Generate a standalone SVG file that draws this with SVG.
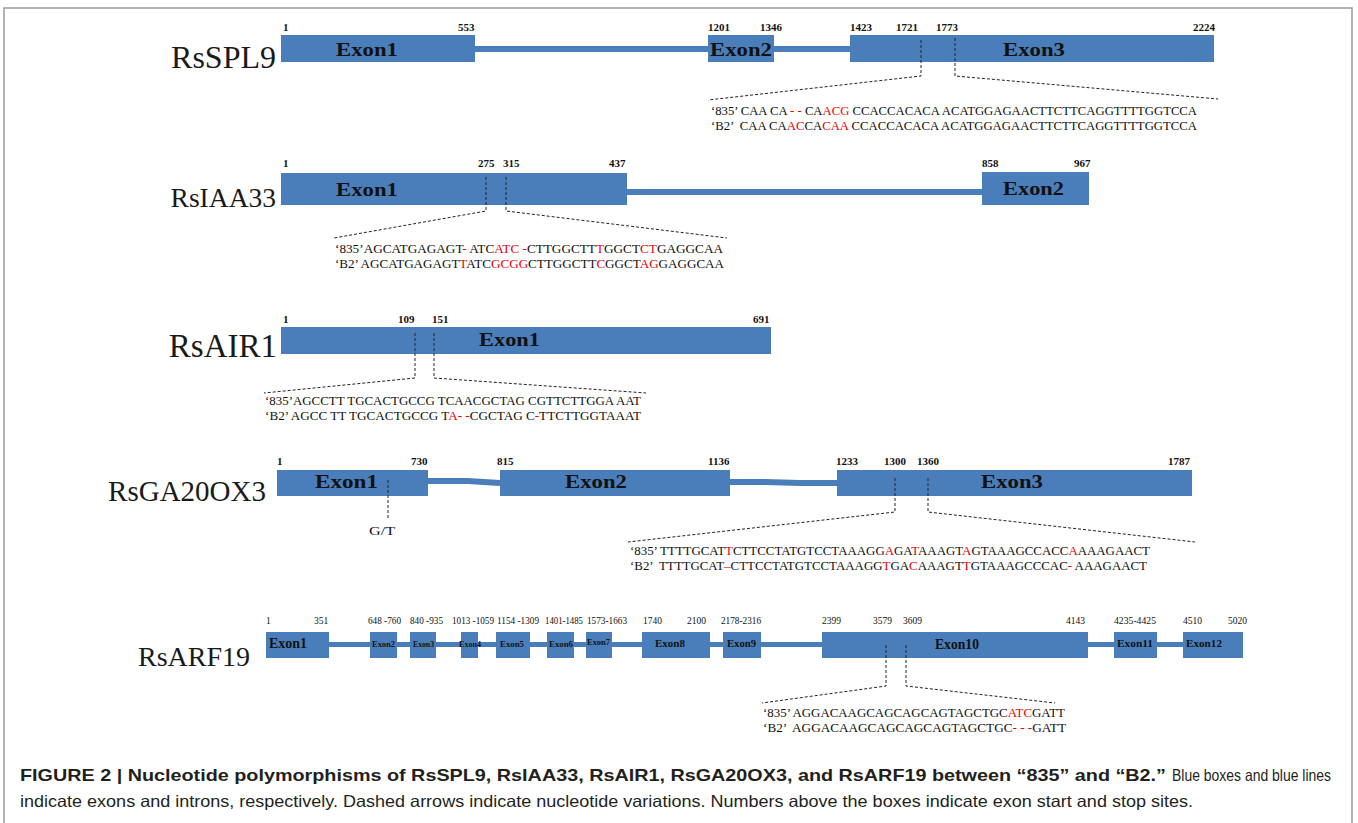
<svg xmlns="http://www.w3.org/2000/svg" width="1358" height="823" viewBox="0 0 1358 823">
<style>
.ex{fill:#4a7ebb}
.in{fill:none;stroke:#4a7ebb;stroke-width:6}
.gn{font-family:"Liberation Serif","Times New Roman",serif;font-size:27px;fill:#1a1a1a}
.num{font-family:"Liberation Serif","Times New Roman",serif;font-size:11px;font-weight:bold;fill:#111}
.num2{font-family:"Liberation Serif","Times New Roman",serif;font-size:9.5px;fill:#111}
.el{font-family:"Liberation Serif","Times New Roman",serif;font-size:19px;font-weight:bold;fill:#111}
.es{font-family:"Liberation Serif","Times New Roman",serif;font-size:8px;font-weight:bold;fill:#111}
.em{font-family:"Liberation Serif","Times New Roman",serif;font-size:11px;font-weight:bold;fill:#111}
.eb{font-family:"Liberation Serif","Times New Roman",serif;font-size:14px;font-weight:bold;fill:#111}
.seq{font-family:"Liberation Serif","Times New Roman",serif;font-size:13px;fill:#111;white-space:pre}
.r{fill:#e8000b}
.dash{fill:none;stroke:#222;stroke-width:1;stroke-dasharray:3 2}
.cap{font-family:"Liberation Sans",Arial,sans-serif;font-size:16.5px;fill:#231f20}
.capb{font-weight:bold}
.frame{fill:none;stroke:#9a9a9a;stroke-width:1.5}
</style>
<rect x="0" y="0" width="1358" height="823" fill="#fff"/>
<path class="frame" d="M4,830 V8 H1352 V830"/>

<g id="rsspl9">
  <line class="in" x1="475" y1="49" x2="850" y2="49"/>
  <rect class="ex" x="281" y="35" width="194" height="27"/>
  <rect class="ex" x="708" y="35" width="66" height="27"/>
  <rect class="ex" x="850" y="35" width="364" height="27"/>
  <text class="gn" x="276" y="68" text-anchor="end" style="font-size:32px">RsSPL9</text>
  <text class="el" x="336" y="56" textLength="62" lengthAdjust="spacingAndGlyphs">Exon1</text>
  <text class="el" x="710" y="56" textLength="62" lengthAdjust="spacingAndGlyphs">Exon2</text>
  <text class="el" x="1003" y="56" textLength="62" lengthAdjust="spacingAndGlyphs">Exon3</text>
  <text class="num" x="283" y="31">1</text>
  <text class="num" x="458" y="31">553</text>
  <text class="num" x="708" y="31">1201</text>
  <text class="num" x="760" y="31">1346</text>
  <text class="num" x="850" y="31">1423</text>
  <text class="num" x="896" y="31">1721</text>
  <text class="num" x="936" y="31">1773</text>
  <text class="num" x="1193" y="31">2224</text>
  <text class="seq" x="711" y="115" textLength="486" lengthAdjust="spacingAndGlyphs">‘835’ CAA CA <tspan class="r">- -</tspan> CA<tspan class="r">ACG</tspan> CCACCACACA ACATGGAGAACTTCTTCAGGTTTTGGTCCA</text>
  <text class="seq" x="711" y="130" textLength="486" lengthAdjust="spacingAndGlyphs">‘B2’  CAA CA<tspan class="r">AC</tspan>CA<tspan class="r">CAA</tspan> CCACCACACA ACATGGAGAACTTCTTCAGGTTTTGGTCCA</text>
</g>

<g id="rsiaa33">
  <line class="in" x1="627" y1="192" x2="982" y2="192"/>
  <rect class="ex" x="281" y="173" width="346" height="32"/>
  <rect class="ex" x="982" y="172" width="107" height="33"/>
  <text class="gn" x="276" y="207" text-anchor="end" style="font-size:27.5px">RsIAA33</text>
  <text class="el" x="336" y="196" textLength="62" lengthAdjust="spacingAndGlyphs">Exon1</text>
  <text class="el" x="1003" y="195" textLength="61" lengthAdjust="spacingAndGlyphs">Exon2</text>
  <text class="num" x="283" y="167">1</text>
  <text class="num" x="478" y="167">275</text>
  <text class="num" x="503" y="167">315</text>
  <text class="num" x="609" y="167">437</text>
  <text class="num" x="982" y="167">858</text>
  <text class="num" x="1074" y="167">967</text>
  <text class="seq" x="335" y="253" textLength="388" lengthAdjust="spacingAndGlyphs">‘835’AGCATGAGAGT<tspan class="r">-</tspan> ATC<tspan class="r">ATC -</tspan>CTTGGCTT<tspan class="r">T</tspan>GGCT<tspan class="r">CT</tspan>GAGGCAA</text>
  <text class="seq" x="335" y="268" textLength="389" lengthAdjust="spacingAndGlyphs">‘B2’ AGCATGAGAGT<tspan class="r">T</tspan>ATC<tspan class="r">GCGG</tspan>CTTGGCTT<tspan class="r">C</tspan>GGCT<tspan class="r">AG</tspan>GAGGCAA</text>
</g>

<g id="rsair1">
  <rect class="ex" x="281" y="327" width="490" height="27"/>
  <text class="gn" x="277" y="357" text-anchor="end" style="font-size:33px">RsAIR1</text>
  <text class="el" x="479" y="346" textLength="61" lengthAdjust="spacingAndGlyphs">Exon1</text>
  <text class="num" x="283" y="323">1</text>
  <text class="num" x="398" y="323">109</text>
  <text class="num" x="432" y="323">151</text>
  <text class="num" x="753" y="323">691</text>
  <text class="seq" x="265" y="405" textLength="376" lengthAdjust="spacingAndGlyphs">‘835’AGCCTT TGCACTGCCG TCAACGCTAG CGTTCTTGGA AAT</text>
  <text class="seq" x="265" y="420" textLength="376" lengthAdjust="spacingAndGlyphs">‘B2’ AGCC TT TGCACTGCCG T<tspan class="r">A- -</tspan>CGCTAG C<tspan class="r">-</tspan>TTCTTGGTAAAT</text>
</g>

<g id="rsga20ox3">
  <polyline class="in" points="428,481 468,481 500,483"/>
  <polyline class="in" points="730,482 765,482 800,483 837,483"/>
  <rect class="ex" x="277" y="470" width="151" height="26"/>
  <rect class="ex" x="500" y="470" width="230" height="26"/>
  <rect class="ex" x="837" y="470" width="355" height="26"/>
  <text class="gn" x="266" y="501" text-anchor="end" style="font-size:29px">RsGA20OX3</text>
  <text class="el" x="315" y="488" textLength="63" lengthAdjust="spacingAndGlyphs">Exon1</text>
  <text class="el" x="565" y="488" textLength="62" lengthAdjust="spacingAndGlyphs">Exon2</text>
  <text class="el" x="981" y="488" textLength="62" lengthAdjust="spacingAndGlyphs">Exon3</text>
  <text class="num" x="277" y="465">1</text>
  <text class="num" x="411" y="465">730</text>
  <text class="num" x="497" y="465">815</text>
  <text class="num" x="708" y="465">1136</text>
  <text class="num" x="836" y="465">1233</text>
  <text class="num" x="884" y="465">1300</text>
  <text class="num" x="917" y="465">1360</text>
  <text class="num" x="1168" y="465">1787</text>
  <text class="seq" x="369" y="535" textLength="26" lengthAdjust="spacingAndGlyphs">G/T</text>
  <text class="seq" x="630" y="555" textLength="520" lengthAdjust="spacingAndGlyphs">‘835’ TTTTGCAT<tspan class="r">T</tspan>CTTCCTATGTCCTAAAGG<tspan class="r">A</tspan>GA<tspan class="r">T</tspan>AAAGT<tspan class="r">A</tspan>GTAAAGCCACC<tspan class="r">A</tspan>AAAGAACT</text>
  <text class="seq" x="630" y="570" textLength="517" lengthAdjust="spacingAndGlyphs">‘B2’  TTTTGCAT<tspan class="r">–</tspan>CTTCCTATGTCCTAAAGG<tspan class="r">T</tspan>GA<tspan class="r">C</tspan>AAAGT<tspan class="r">T</tspan>GTAAAGCCCAC<tspan class="r">-</tspan> AAAGAACT</text>
</g>

<g id="rsarf19">
  <line class="in" x1="329" y1="644.5" x2="1183" y2="644.5" style="stroke-width:5"/>
  <rect class="ex" x="266" y="632" width="63" height="26"/>
  <rect class="ex" x="370" y="632" width="27" height="26"/>
  <rect class="ex" x="410" y="632" width="26" height="26"/>
  <rect class="ex" x="461" y="632" width="17" height="26"/>
  <rect class="ex" x="496" y="632" width="34" height="26"/>
  <rect class="ex" x="547" y="632" width="27" height="26"/>
  <rect class="ex" x="586" y="632" width="26" height="26"/>
  <rect class="ex" x="642" y="632" width="68" height="26"/>
  <rect class="ex" x="723" y="632" width="38" height="26"/>
  <rect class="ex" x="822" y="632" width="266" height="26"/>
  <rect class="ex" x="1114" y="632" width="43" height="26"/>
  <rect class="ex" x="1183" y="632" width="60" height="26"/>
  <text class="gn" x="250" y="666" text-anchor="end" style="font-size:28px">RsARF19</text>
  <text class="eb" x="269" y="648" textLength="38" lengthAdjust="spacingAndGlyphs">Exon1</text>
  <text class="es" x="372" y="647" textLength="23" lengthAdjust="spacingAndGlyphs">Exon2</text>
  <text class="es" x="413" y="647" textLength="21" lengthAdjust="spacingAndGlyphs">Exon3</text>
  <text class="es" x="459" y="647" textLength="22" lengthAdjust="spacingAndGlyphs">Exon4</text>
  <text class="es" x="500" y="647" textLength="24" lengthAdjust="spacingAndGlyphs">Exon5</text>
  <text class="es" x="549" y="647" textLength="24" lengthAdjust="spacingAndGlyphs">Exon6</text>
  <text class="es" x="587" y="645" textLength="23" lengthAdjust="spacingAndGlyphs">Exon7</text>
  <text class="em" x="655" y="647" textLength="30" lengthAdjust="spacingAndGlyphs">Exon8</text>
  <text class="em" x="727" y="647" textLength="29" lengthAdjust="spacingAndGlyphs">Exon9</text>
  <text class="eb" x="935" y="649" textLength="44" lengthAdjust="spacingAndGlyphs">Exon10</text>
  <text class="em" x="1117" y="647" textLength="36" lengthAdjust="spacingAndGlyphs">Exon11</text>
  <text class="em" x="1186" y="647" textLength="36" lengthAdjust="spacingAndGlyphs">Exon12</text>
  <text class="num2" x="266" y="624">1</text>
  <text class="num2" x="314" y="624">351</text>
  <text class="num2" x="368" y="624" textLength="33" lengthAdjust="spacingAndGlyphs">648 -760</text>
  <text class="num2" x="410" y="624" textLength="33" lengthAdjust="spacingAndGlyphs">840 -935</text>
  <text class="num2" x="452" y="624" textLength="42" lengthAdjust="spacingAndGlyphs">1013 -1059</text>
  <text class="num2" x="497" y="624" textLength="42" lengthAdjust="spacingAndGlyphs">1154 -1309</text>
  <text class="num2" x="545" y="624" textLength="38" lengthAdjust="spacingAndGlyphs">1401-1485</text>
  <text class="num2" x="587" y="624" textLength="40" lengthAdjust="spacingAndGlyphs">1573-1663</text>
  <text class="num2" x="643" y="624">1740</text>
  <text class="num2" x="687" y="624">2100</text>
  <text class="num2" x="721" y="624" textLength="40" lengthAdjust="spacingAndGlyphs">2178-2316</text>
  <text class="num2" x="822" y="624">2399</text>
  <text class="num2" x="873" y="624">3579</text>
  <text class="num2" x="903" y="624">3609</text>
  <text class="num2" x="1066" y="624">4143</text>
  <text class="num2" x="1114" y="624" textLength="42" lengthAdjust="spacingAndGlyphs">4235-4425</text>
  <text class="num2" x="1183" y="624">4510</text>
  <text class="num2" x="1228" y="624">5020</text>
  <text class="seq" x="763" y="717" textLength="302" lengthAdjust="spacingAndGlyphs">‘835’ AGGACAAGCAGCAGCAGTAGCTGC<tspan class="r">ATC</tspan>GATT</text>
  <text class="seq" x="763" y="732" textLength="303" lengthAdjust="spacingAndGlyphs">‘B2’  AGGACAAGCAGCAGCAGTAGCTGC<tspan class="r">- - -</tspan>GATT</text>
</g>

<g id="connectors">
  <polyline class="dash" points="921,40 921,76 708,100"/>
  <polyline class="dash" points="955,38 955,76 1218,99"/>
  <polyline class="dash" points="486,177 486,211 334,238"/>
  <polyline class="dash" points="506,177 506,211 727,238"/>
  <polyline class="dash" points="415,333 415,378 264,393"/>
  <polyline class="dash" points="434,333 434,378 646,393"/>
  <polyline class="dash" points="388,480 388,520"/>
  <polyline class="dash" points="895,478 895,512 628,542"/>
  <polyline class="dash" points="928,478 928,512 1195,542"/>
  <polyline class="dash" points="886,645 886,686 762,703"/>
  <polyline class="dash" points="906,645 906,686 1055,703"/>
</g>

<g id="caption">
  <text class="cap capb" x="20" y="781" textLength="1146" lengthAdjust="spacingAndGlyphs">FIGURE 2 | Nucleotide polymorphisms of RsSPL9, RsIAA33, RsAIR1, RsGA20OX3, and RsARF19 between “835” and “B2.”</text>
  <text class="cap" x="1172" y="781" textLength="159" lengthAdjust="spacingAndGlyphs">Blue boxes and blue lines</text>
  <text class="cap" x="20" y="807" textLength="1173" lengthAdjust="spacingAndGlyphs">indicate exons and introns, respectively. Dashed arrows indicate nucleotide variations. Numbers above the boxes indicate exon start and stop sites.</text>
</g>
</svg>
